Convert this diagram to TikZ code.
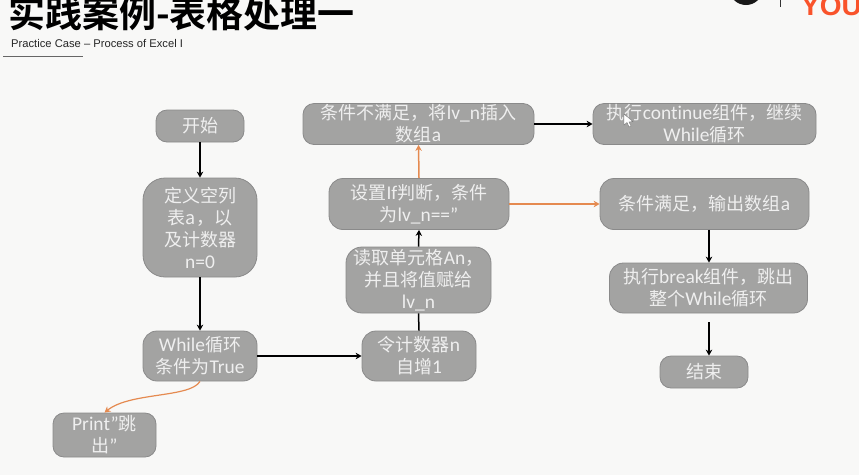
\documentclass[tikz,border=0pt]{standalone}
\usepackage{fontspec}
\setmainfont{Carlito}[Scale=1.08,Ligatures=CommonOff]
\newfontfamily\cj{Noto Sans CJK SC}
\newfontfamily\cjb{Noto Sans CJK SC Bold}
\newfontfamily\arl{Liberation Sans}
\usetikzlibrary{arrows.meta}
\definecolor{pagebg}{HTML}{F8F8F7}
\definecolor{boxfill}{HTML}{A3A3A2}
\definecolor{boxline}{HTML}{8A8A8A}
\definecolor{boxtext}{HTML}{EFEFEF}
\definecolor{orangeline}{HTML}{E58A50}
\definecolor{logored}{HTML}{F9532B}
\tikzset{
  x=1pt,y=-1pt,
  flowbox/.style={draw=boxline,line width=0.8pt,fill=boxfill,text=boxtext,rounded corners=11pt,inner sep=0pt,align=center,font=\fontsize{18}{22}\selectfont},
  blackflow/.style={draw=black,line width=1.5pt,-{Stealth[length=6pt,width=6.5pt]}},
  plainflow/.style={draw=black,line width=1.5pt},
  orangeflow/.style={draw=orangeline,line width=1.5pt,-{Stealth[length=6pt,width=6.5pt]}},
}
\begin{document}
\begin{tikzpicture}
\useasboundingbox (0,0) rectangle (859,475);
\fill[pagebg] (0,0) rectangle (859,475);
\begin{scope}
\clip (0,0) rectangle (859,475);
\node[anchor=base west,inner sep=0pt,font=\fontsize{37}{37}\selectfont] (title) at (8,27.5) {\cjb 实践案例-表格处理一};
\fill[black!90] (746,-12) circle (17);
\node[anchor=base west,inner sep=0pt,text=logored,font=\bfseries\arl\fontsize{28}{28}\selectfont] (logo) at (801,15) {YOU};
\end{scope}
\draw[line width=0.7pt,black!80] (780,0) -- (780,7);
\node[anchor=base west,inner sep=0pt,text=black!85,font=\arl\fontsize{11.2}{13}\selectfont] (sub) at (11,47) {Practice Case – Process of Excel I};
\draw[line width=0.8pt,black!60] (3,56) -- (83,56);

\node[flowbox,minimum width=88pt,minimum height=32pt] (begin) at (200,126) {\cj 开始};
\node[flowbox,rounded corners=22pt,minimum width=114pt,minimum height=99pt] (def) at (200,227.5) {\cj 定义空列\\\cj 表a，以\\\cj 及计数器\\n=0};
\node[flowbox,rounded corners=14pt,minimum width=114pt,minimum height=50pt] (wh) at (200,356) {While{\cj 循环}\\{\cj 条件为}True};
\node[flowbox,minimum width=103pt,minimum height=44pt] (prn) at (104.5,435) {Print”{\cj 跳}\\{\cj 出}”};
\node[flowbox,rounded corners=14pt,minimum width=114pt,minimum height=50pt] (cnt) at (419,356) {{\cj 令计数器}n\\{\cj 自增}1};
\node[flowbox,rounded corners=16pt,minimum width=145pt,minimum height=66pt] (rd) at (418.5,280) {{\cj 读取单元格}An{\cj ，}\\{\cj 并且将值赋给}\\lv\_n};
\node[flowbox,rounded corners=14pt,minimum width=180pt,minimum height=51pt] (ifn) at (419,204) {{\cj 设置}If{\cj 判断，条件}\\{\cj 为}lv\_n==”};
\node[flowbox,minimum width=231pt,minimum height=41pt] (no) at (418.5,124) {{\cj 条件不满足，将}lv\_n{\cj 插入}\\{\cj 数组}a};
\node[flowbox,minimum width=223pt,minimum height=41pt] (cont) at (704.5,124) {{\cj 执行}continue{\cj 组件，继续}\\While{\cj 循环}};
\node[flowbox,rounded corners=14pt,minimum width=209pt,minimum height=51pt] (yes) at (704.5,204) {{\cj 条件满足，输出数组}a};
\node[flowbox,rounded corners=14pt,minimum width=198pt,minimum height=50pt] (brk) at (708.5,288) {{\cj 执行}break{\cj 组件，跳出}\\{\cj 整个}While{\cj 循环}};
\node[flowbox,minimum width=88pt,minimum height=32pt] (fin) at (704,372) {\cj 结束};
\coordinate (brkout) at (709,322);

\draw[blackflow] (begin.south) -- (def.north);
\draw[blackflow] (def.south) -- (wh.north);
\draw[blackflow] (wh.east) -- (cnt.west);
\draw[plainflow] (cnt.north) -- (rd.south);
\draw[blackflow] (rd.north) -- (ifn.south);
\draw[orangeflow] (ifn.north) -- (no.south);
\draw[blackflow] (no.east) -- (cont.west);
\draw[orangeflow] (ifn.east) -- (yes.west);
\draw[blackflow] (brkout |- yes.south) -- (brkout |- brk.north);
\draw[blackflow] (brkout) -- (brkout |- fin.north);
\draw[orangeflow,line width=1.2pt] (wh.south) .. controls (190,398) and (130,392) .. (prn.north);

\draw[fill=white,draw=black!55,line width=0.4pt] (624,114) -- (624,125) -- (627,122.5) -- (629,127) -- (631,126) -- (629,122) -- (633,121.5) -- cycle;
\end{tikzpicture}
\end{document}
